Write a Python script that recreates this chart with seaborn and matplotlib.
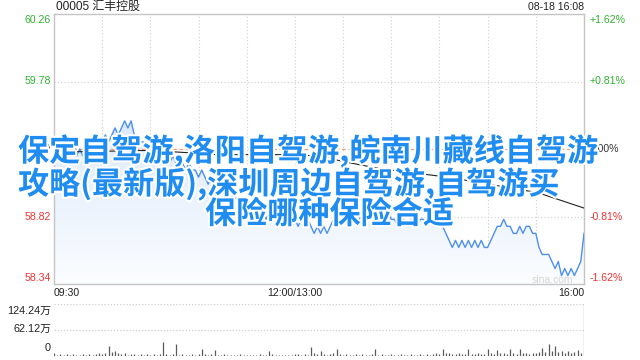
import numpy as np
import pandas as pd
import matplotlib
matplotlib.use('Agg')
import matplotlib.pyplot as plt
import seaborn as sns
from matplotlib import patheffects as pe
from matplotlib.patches import Polygon
from matplotlib.colors import LinearSegmentedColormap

# ---------------- data ----------------
title_left = '00005 汇丰控股'
title_right = '08-18 16:08'
watermark = 'sina.com'

price_ticks = [60.26, 59.78, 59.30, 58.82, 58.34]
price_tick_labels = ['60.26', '59.78', '59.30', '58.82', '58.34']
pct_tick_labels = ['+1.62%', '+0.81%', '0.00%', '-0.81%', '-1.62%']
prev_close = 59.30

time_tick_minutes = [0, 150, 330]
time_tick_labels = ['09:30', '12:00/13:00', '16:00']
grid_minutes = [30, 60, 90, 120, 150, 180, 210, 240, 270, 300]

vol_ticks = [124.24, 62.12, 0]
vol_tick_labels = ['124.24万', '62.12万', '0']

overlay_lines = ['保定自驾游,洛阳自驾游,皖南川藏线自驾游',
                 '攻略(最新版),深圳周边自驾游,自驾游买',
                 '保险哪种保险合适']

# price every 2 minutes (minutes after 09:30, lunch break collapsed)
price_am = [59.30, 59.25, 59.30, 59.35, 59.40, 59.30, 59.35, 59.25, 59.30, 59.25,
            59.25, 59.30, 59.25, 59.30, 59.35, 59.35, 59.40, 59.35, 59.40, 59.45,
            59.40, 59.45, 59.50, 59.45, 59.50, 59.40, 59.40, 59.35, 59.35, 59.30,
            59.30, 59.25, 59.30, 59.25, 59.30, 59.25, 59.20, 59.25, 59.20, 59.25,
            59.20, 59.15, 59.20, 59.15, 59.15, 59.10, 59.15, 59.10, 59.05, 59.10,
            59.05, 59.00, 59.05, 59.00, 58.95, 59.00, 58.95, 58.95, 58.90, 58.95,
            58.90, 58.90, 58.85, 58.90, 58.85, 58.85, 58.80, 58.85, 58.80, 58.85,
            58.80, 58.80, 58.75, 58.80, 58.75, 58.80]
price_pm = [58.75, 58.80, 58.75, 58.80, 58.75, 58.70, 58.75, 58.70, 58.75, 58.70,
            58.75, 58.80, 58.75, 58.80, 58.80, 58.85, 58.80, 58.85, 58.80, 58.80,
            58.85, 58.80, 58.85, 58.85, 58.80, 58.85, 58.80, 58.80, 58.85, 58.80,
            58.80, 58.75, 58.80, 58.80, 58.75, 58.80, 58.80, 58.75, 58.80, 58.80,
            58.75, 58.80, 58.80, 58.75, 58.80, 58.75, 58.70, 58.65, 58.60, 58.65,
            58.60, 58.65, 58.60, 58.65, 58.60, 58.65, 58.60, 58.65, 58.60, 58.60,
            58.65, 58.70, 58.75, 58.75, 58.80, 58.75, 58.75, 58.70, 58.70, 58.75,
            58.70, 58.75, 58.75, 58.70, 58.70, 58.60, 58.55, 58.55, 58.55, 58.50,
            58.45, 58.50, 58.40, 58.45, 58.40, 58.45, 58.40, 58.45, 58.50, 58.70]

# volume (万股) every 2 minutes
vol_am = [6, 3, 4, 3, 4, 2, 5, 3, 2, 4,
          3, 5, 3, 4, 6, 5, 8, 25, 9, 13,
          6, 4, 7, 3, 5, 4, 3, 5, 2, 4,
          3, 5, 3, 4, 33, 4, 3, 5, 28, 3,
          4, 2, 3, 5, 3, 4, 17, 5, 3, 4,
          15, 3, 2, 4, 3, 2, 3, 2, 4, 3,
          2, 3, 2, 3, 4, 2, 3, 13, 4, 3,
          2, 3, 2, 3, 2, 4]
vol_pm = [5, 3, 4, 3, 21, 6, 4, 11, 5, 3,
          4, 6, 16, 4, 3, 5, 3, 2, 4, 3,
          5, 2, 3, 4, 16, 3, 4, 2, 3, 5,
          3, 2, 4, 3, 2, 5, 3, 2, 4, 3,
          5, 3, 4, 6, 5, 17, 8, 6, 5, 4,
          6, 5, 4, 16, 5, 4, 6, 5, 4, 16,
          7, 5, 15, 6, 8, 5, 16, 6, 5, 17,
          6, 7, 5, 8, 6, 9, 19, 10, 29, 12,
          25, 9, 11, 8, 13, 7, 9, 15, 8, 124.24]

avg_minutes = [0, 12, 60, 103, 150, 164, 185, 203, 245, 301, 309, 330]
avg_values = [59.29, 59.28, 59.29, 59.26, 59.26, 59.25, 59.20, 59.16, 59.10, 58.99, 58.96, 58.88]

prices = price_am + price_pm
volumes = vol_am + vol_pm
minutes = np.arange(0, 331, 2)
assert len(prices) == len(minutes) and len(volumes) == len(minutes)
df = pd.DataFrame({'minute': minutes, 'price': prices, 'volume': volumes})
df_avg = pd.DataFrame({'minute': avg_minutes, 'avg': avg_values})

# ---------------- style ----------------
W, H = 640, 360
UP = '#2fb12f'
DOWN = '#f03232'
FLAT = '#333333'
LINE = '#4d8ff0'
GRID = '#cfcfcf'
FRAME = '#c4c4c4'
LBL_FONT = ['Liberation Sans', 'Noto Sans CJK SC', 'DejaVu Sans']
plt.rcParams['font.family'] = LBL_FONT

fig = plt.figure(figsize=(W / 100, H / 100), dpi=100)
fig.patch.set_facecolor('white')

def fx(px):
    return px / W

def fy(py):
    return 1 - py / H

L, R, T, B = 54, 584, 14, 284
ax = fig.add_axes([fx(L), fy(B), (R - L) / W, (B - T) / H])
ax.set_facecolor('white')

ymin, ymax = min(price_ticks), max(price_ticks)
xmin, xmax = minutes[0], minutes[-1]

# gradient fill under price line
verts = np.column_stack([np.r_[xmin, df['minute'], xmax], np.r_[ymin, df['price'], ymin]])
poly = Polygon(verts, closed=True, facecolor='none', edgecolor='none')
ax.add_patch(poly)
cmap = LinearSegmentedColormap.from_list('g', ['#fbfdff', '#c9dcf8'])
grad = np.linspace(0, 1, 256).reshape(-1, 1)
im = ax.imshow(grad, aspect='auto', cmap=cmap, origin='lower',
               extent=[xmin, xmax, ymin, ymax], zorder=1)
im.set_clip_path(poly)

# grid
for gm in grid_minutes:
    ax.axvline(gm, color=GRID, lw=0.8, ls=(0, (1, 2)), zorder=0.5)
for v in price_ticks[1:-1]:
    if v == prev_close:
        ax.axhline(v, color='#f2a07c', lw=0.9, ls=(0, (3, 2)), zorder=2)
    else:
        ax.axhline(v, color=GRID, lw=0.8, ls=(0, (1, 2)), zorder=0.5)

sns.lineplot(data=df, x='minute', y='price', ax=ax, color=LINE, linewidth=1.0,
             estimator=None, sort=False, zorder=3)
sns.lineplot(data=df_avg, x='minute', y='avg', ax=ax, color='#222222', linewidth=0.8,
             estimator=None, sort=False, zorder=3)

ax.set_xlim(xmin, xmax)
ax.set_ylim(ymin, ymax)
ax.set_xticks([]); ax.set_yticks([])
ax.set_xlabel(''); ax.set_ylabel('')
for s in ax.spines.values():
    s.set_color(FRAME)
    s.set_linewidth(1.0)

# price labels
tick_colors = [UP, UP, FLAT, DOWN, DOWN]
offsets = [-6, 0, 0, 0, 6]
for v, lab, pct, c, off in zip(price_ticks, price_tick_labels, pct_tick_labels, tick_colors, offsets):
    ax.annotate(lab, xy=(0, v), xycoords=('axes fraction', 'data'), xytext=(-3, off),
                textcoords='offset pixels', ha='right', va='center', color=c, fontsize=7.6)
    ax.annotate(pct, xy=(1, v), xycoords=('axes fraction', 'data'), xytext=(6, off),
                textcoords='offset pixels', ha='left', va='center', color=c, fontsize=7.6)

# time labels
has = ['left', 'center', 'right']
for m, lab, ha in zip(time_tick_minutes, time_tick_labels, has):
    ax.annotate(lab, xy=(m, 0), xycoords=('data', 'axes fraction'), xytext=(0, -9),
                textcoords='offset pixels', ha=ha, va='center', color='#222222', fontsize=7.6)

ax.text(0.941, 0.016, watermark, transform=ax.transAxes, ha='center', va='center',
        color='#d6d6d6', fontsize=7.5, zorder=4)

# titles
fig.text(fx(56), fy(7), title_left, ha='left', va='center', fontsize=8.6, color='#222222')
fig.text(fx(584), fy(7), title_right, ha='right', va='center', fontsize=7.6, color='#222222')

# volume panel
VT, VB = 304, 356
axv = fig.add_axes([fx(L), fy(VB), (R - L) / W, (VB - VT) / H])
axv.set_facecolor('none')
bar_colors = ['#5a5a5a'] * (len(df) - 1) + ['#8a8a8a']
axv.vlines(df['minute'], 0, df['volume'], colors=bar_colors, lw=0.9)
for v in vol_ticks[:-1]:
    axv.axhline(v, color=GRID, lw=0.9, ls=(0, (1, 1.5)), zorder=0)
axv.set_xlim(xmin, xmax)
axv.set_ylim(0, max(vol_ticks))
axv.set_xticks([]); axv.set_yticks([])
for s in axv.spines.values():
    s.set_visible(False)
voffs = [-7, 1, 8]
for v, lab, off in zip(vol_ticks, vol_tick_labels, voffs):
    axv.annotate(lab, xy=(0, v), xycoords=('axes fraction', 'data'), xytext=(-3, off),
                 textcoords='offset pixels', ha='right', va='center', color='#222222', fontsize=7.8)

# overlay title text
baselines = [161, 194, 223.5]
lefts = [18, 18, 205]
for line, bx, by in zip(overlay_lines, lefts, baselines):
    fig.text(fx(bx), fy(by), line, ha='left', va='baseline', fontsize=22.4,
             family=['Noto Sans CJK SC', 'DejaVu Sans'], weight='bold', color='#1e8cf0',
             path_effects=[pe.withStroke(linewidth=3, foreground='white')], zorder=10)

fig.savefig('out.png', dpi=100, facecolor='white')
